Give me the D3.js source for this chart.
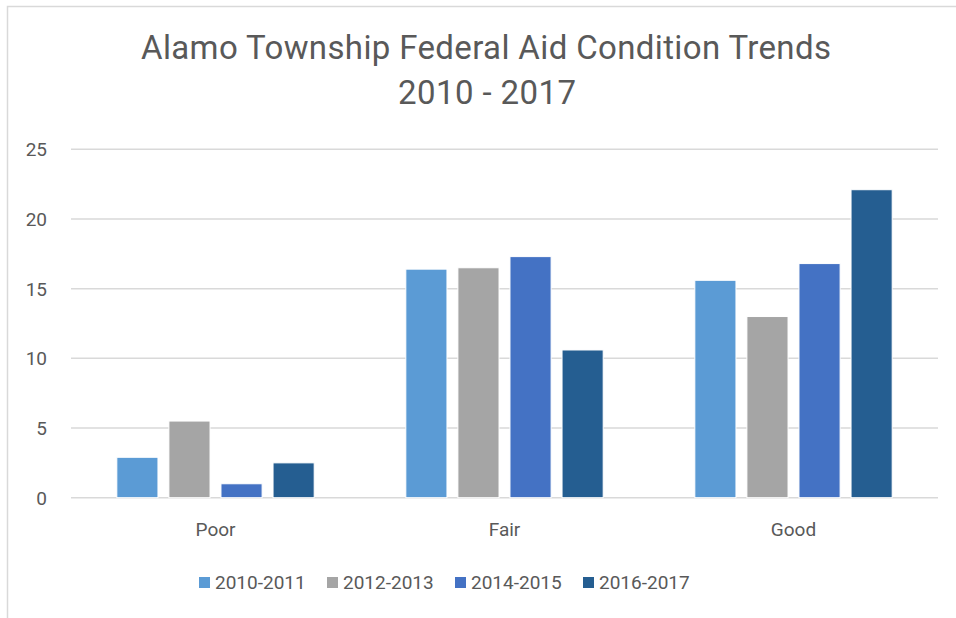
<!DOCTYPE html>
<html>
<head>
<meta charset="utf-8">
<script src="https://cdn.jsdelivr.net/npm/d3@7"></script>
<style>
  body { margin: 0; background: #fff; }
  svg text { font-family: "Roboto", "Liberation Sans", sans-serif; fill: #595959; }
</style>
</head>
<body>
<script>
// Alamo Township condition bar chart

const w = 956; // Width of Space
const h = 618; // Height of Space

// Data
const categories = ["Poor", "Fair", "Good"];
const seriesNames = ["2010-2011", "2012-2013", "2014-2015", "2016-2017"];
const series2010 = [2.9, 16.4, 15.6];
const series2012 = [5.5, 16.5, 13.0];
const series2014 = [1.0, 17.3, 16.8];
const series2016 = [2.5, 10.6, 22.1];
const yTicks = [0, 5, 10, 15, 20, 25];
const colors = ["#5B9BD5", "#A5A5A5", "#4472C4", "#255E91"];

const allSeries = [series2010, series2012, series2014, series2016];
const data = [];
categories.forEach((c, i) => {
    allSeries.forEach((s, j) => {
        data.push({ cat: c, name: seriesNames[j], value: s[i] });
    });
});

// Plot area
const plotLeft = 71, plotRight = 938, plotTop = 149.3, plotBottom = 497.7;

const svg = d3.select("body")
    .append("svg")
    .attr("width", w)
    .attr("height", h);

// Chart frame (cut off on the right and bottom)
svg.append("path")
    .attr("d", "M7.5," + h + " V6.5 H" + w)
    .attr("fill", "none")
    .attr("stroke", "#D9D9D9")
    .attr("stroke-width", 1.5);

// Scales
const x0 = d3.scaleBand()
    .domain(categories)
    .range([plotLeft, plotRight])
    .padding(0);

const x1 = d3.scaleBand()
    .domain(seriesNames)
    .range([0, x0.bandwidth()])
    .paddingInner(0.21)
    .paddingOuter(0.88);

const yScale = d3.scaleLinear()
    .domain([0, 25])
    .range([plotBottom, plotTop]);

const color = d3.scaleOrdinal()
    .domain(seriesNames)
    .range(colors);

// Gridlines
svg.append("g")
    .selectAll("line")
    .data(yTicks)
    .enter()
    .append("line")
    .attr("x1", plotLeft)
    .attr("x2", plotRight)
    .attr("y1", d => yScale(d))
    .attr("y2", d => yScale(d))
    .attr("stroke", "#D9D9D9")
    .attr("stroke-width", 1.5);

// Left axis labels (no line)
const leftAxis = d3.axisLeft(yScale)
    .tickValues(yTicks)
    .tickSize(0)
    .tickPadding(24);
const gy = svg.append("g")
    .attr("transform", "translate(" + plotLeft + ",0)")
    .call(leftAxis);
gy.select(".domain").remove();
gy.selectAll("text")
    .style("font-size", "19px")
    .attr("fill", "#595959")
    .attr("dy", "0.35em");

// Bars
svg.append("g")
    .selectAll("rect")
    .data(data)
    .enter()
    .append("rect")
    .attr("x", d => x0(d.cat) + x1(d.name))
    .attr("y", d => yScale(d.value))
    .attr("width", x1.bandwidth())
    .attr("height", d => plotBottom - yScale(d.value))
    .attr("fill", d => color(d.name))
    .attr("stroke", "#fff")
    .attr("stroke-width", 1);

// Bottom axis labels (no line)
const bottomAxis = d3.axisBottom(x0).tickSize(0).tickPadding(25);
const gx = svg.append("g")
    .attr("transform", "translate(0," + plotBottom + ")")
    .call(bottomAxis);
gx.select(".domain").remove();
gx.selectAll("text")
    .style("font-size", "19px")
    .attr("fill", "#595959");

// Title
svg.append("text")
    .attr("x", 486)
    .attr("y", 59)
    .attr("text-anchor", "middle")
    .style("font-size", "33px")
    .attr("textLength", 690)
    .attr("lengthAdjust", "spacing")
    .text("Alamo Township Federal Aid Condition Trends");
svg.append("text")
    .attr("x", 487)
    .attr("y", 104)
    .attr("text-anchor", "middle")
    .style("font-size", "33px")
    .attr("textLength", 178)
    .attr("lengthAdjust", "spacing")
    .text("2010 - 2017");

// Legend
const legend = svg.append("g")
    .selectAll("g")
    .data(seriesNames)
    .enter()
    .append("g")
    .attr("transform", (d, i) => "translate(" + (199 + i * 128) + ",575)");
legend.append("rect")
    .attr("width", 11)
    .attr("height", 11)
    .attr("y", 2)
    .attr("fill", d => color(d));
legend.append("text")
    .attr("x", 16)
    .attr("y", 14)
    .style("font-size", "19px")
    .text(d => d);
</script>
</body>
</html>
